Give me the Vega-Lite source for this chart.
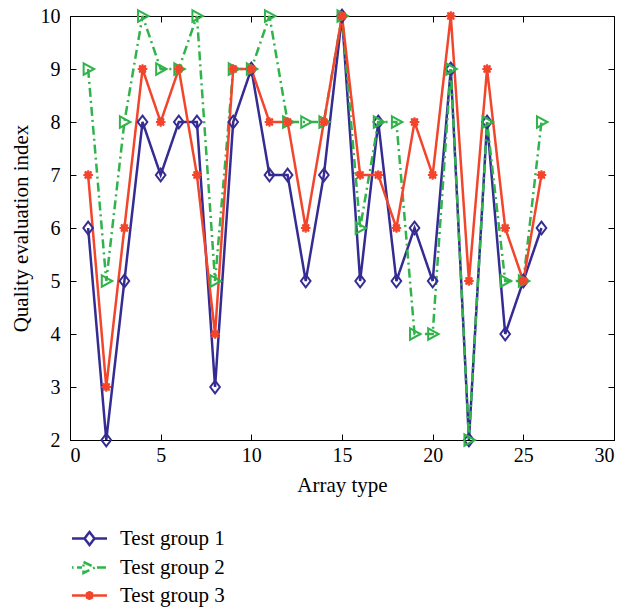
{
  "$schema": "https://vega.github.io/schema/vega-lite/v6.json",
  "width": 544,
  "height": 424,
  "autosize": {"type": "none"},
  "padding": {"left": 70, "top": 16, "right": 11, "bottom": 170},
  "background": "white",
  "config": {
    "font": "Liberation Serif",
    "view": {"stroke": "black", "strokeWidth": 1},
    "axis": {
      "domainColor": "black", "tickColor": "black", "labelColor": "black", "titleColor": "black",
      "labelFont": "Liberation Serif", "titleFont": "Liberation Serif",
      "labelFontSize": 20, "titleFontSize": 21, "titleFontWeight": "normal",
      "grid": false, "tickSize": -6, "labelPadding": 16
    }
  },
  "data": {"values": [
    {"x":1,"y":6,"group":"Test group 1"},{"x":2,"y":2,"group":"Test group 1"},{"x":3,"y":5,"group":"Test group 1"},{"x":4,"y":8,"group":"Test group 1"},{"x":5,"y":7,"group":"Test group 1"},{"x":6,"y":8,"group":"Test group 1"},{"x":7,"y":8,"group":"Test group 1"},{"x":8,"y":3,"group":"Test group 1"},{"x":9,"y":8,"group":"Test group 1"},{"x":10,"y":9,"group":"Test group 1"},{"x":11,"y":7,"group":"Test group 1"},{"x":12,"y":7,"group":"Test group 1"},{"x":13,"y":5,"group":"Test group 1"},{"x":14,"y":7,"group":"Test group 1"},{"x":15,"y":10,"group":"Test group 1"},{"x":16,"y":5,"group":"Test group 1"},{"x":17,"y":8,"group":"Test group 1"},{"x":18,"y":5,"group":"Test group 1"},{"x":19,"y":6,"group":"Test group 1"},{"x":20,"y":5,"group":"Test group 1"},{"x":21,"y":9,"group":"Test group 1"},{"x":22,"y":2,"group":"Test group 1"},{"x":23,"y":8,"group":"Test group 1"},{"x":24,"y":4,"group":"Test group 1"},{"x":25,"y":5,"group":"Test group 1"},{"x":26,"y":6,"group":"Test group 1"},
    {"x":1,"y":9,"group":"Test group 2"},{"x":2,"y":5,"group":"Test group 2"},{"x":3,"y":8,"group":"Test group 2"},{"x":4,"y":10,"group":"Test group 2"},{"x":5,"y":9,"group":"Test group 2"},{"x":6,"y":9,"group":"Test group 2"},{"x":7,"y":10,"group":"Test group 2"},{"x":8,"y":5,"group":"Test group 2"},{"x":9,"y":9,"group":"Test group 2"},{"x":10,"y":9,"group":"Test group 2"},{"x":11,"y":10,"group":"Test group 2"},{"x":12,"y":8,"group":"Test group 2"},{"x":13,"y":8,"group":"Test group 2"},{"x":14,"y":8,"group":"Test group 2"},{"x":15,"y":10,"group":"Test group 2"},{"x":16,"y":6,"group":"Test group 2"},{"x":17,"y":8,"group":"Test group 2"},{"x":18,"y":8,"group":"Test group 2"},{"x":19,"y":4,"group":"Test group 2"},{"x":20,"y":4,"group":"Test group 2"},{"x":21,"y":9,"group":"Test group 2"},{"x":22,"y":2,"group":"Test group 2"},{"x":23,"y":8,"group":"Test group 2"},{"x":24,"y":5,"group":"Test group 2"},{"x":25,"y":5,"group":"Test group 2"},{"x":26,"y":8,"group":"Test group 2"},
    {"x":1,"y":7,"group":"Test group 3"},{"x":2,"y":3,"group":"Test group 3"},{"x":3,"y":6,"group":"Test group 3"},{"x":4,"y":9,"group":"Test group 3"},{"x":5,"y":8,"group":"Test group 3"},{"x":6,"y":9,"group":"Test group 3"},{"x":7,"y":7,"group":"Test group 3"},{"x":8,"y":4,"group":"Test group 3"},{"x":9,"y":9,"group":"Test group 3"},{"x":10,"y":9,"group":"Test group 3"},{"x":11,"y":8,"group":"Test group 3"},{"x":12,"y":8,"group":"Test group 3"},{"x":13,"y":6,"group":"Test group 3"},{"x":14,"y":8,"group":"Test group 3"},{"x":15,"y":10,"group":"Test group 3"},{"x":16,"y":7,"group":"Test group 3"},{"x":17,"y":7,"group":"Test group 3"},{"x":18,"y":6,"group":"Test group 3"},{"x":19,"y":8,"group":"Test group 3"},{"x":20,"y":7,"group":"Test group 3"},{"x":21,"y":10,"group":"Test group 3"},{"x":22,"y":5,"group":"Test group 3"},{"x":23,"y":9,"group":"Test group 3"},{"x":24,"y":6,"group":"Test group 3"},{"x":25,"y":5,"group":"Test group 3"},{"x":26,"y":7,"group":"Test group 3"}
  ]},
  "layer": [
    {
      "mark": {"type": "line", "strokeWidth": 2.5},
      "encoding": {
        "x": {"field": "x", "type": "quantitative", "scale": {"domain": [0, 30], "nice": false},
              "axis": {"orient": "bottom", "values": [0,5,10,15,20,25,30], "title": "Array type", "titlePadding": 9, "labelPadding": 11}},
        "y": {"field": "y", "type": "quantitative", "scale": {"domain": [2, 10], "nice": false, "zero": false},
              "axis": {"orient": "left", "values": [2,3,4,5,6,7,8,9,10], "title": "Quality evaluation index", "titlePadding": 9}},
        "color": {"field": "group", "type": "nominal",
          "scale": {"domain": ["Test group 1","Test group 2","Test group 3"], "range": ["#352c93","#30b34a","#f2452b"]},
          "legend": {
            "orient": "none", "legendX": 9, "legendY": 512, "title": null, "padding": 0,
            "symbolSize": 4, "symbolStrokeWidth": 2.5, "labelFontSize": 21, "labelFont": "Liberation Serif",
            "labelColor": "black", "labelOffset": 20, "rowPadding": 6,
            "encode": {"symbols": {"update": {
              "shape": {"signal": "datum.value === 'Test group 1' ? 'M-17.5,0L-5,0M5,0L17.5,0M-5,0L0,-6.5L5,0L0,6.5Z' : datum.value === 'Test group 2' ? 'M-17.5,0L-16,0M-12.5,0L-7.5,0M-6,-5.5L5.5,0L-6,5.5ZM7.5,0L17.5,0' : 'M-17.5,0L17.5,0M2.5,0A2.5,2.5 0 1,1 -2.5,0A2.5,2.5 0 1,1 2.5,0ZM-4.5,0L4.5,0M0,-4.5L0,4.5M-3.2,-3.2L3.2,3.2M-3.2,3.2L3.2,-3.2'"},
              "fill": {"value": "transparent"},
              "strokeDash": {"value": [1, 0]}
            }}}
          }},
        "strokeDash": {"field": "group", "type": "nominal",
          "scale": {"domain": ["Test group 1","Test group 2","Test group 3"], "range": [[1,0],[9,4,2,4],[1,0]]},
          "legend": null}
      }
    },
    {
      "transform": [{"filter": "datum.group === 'Test group 1'"}],
      "mark": {"type": "point", "filled": false, "strokeWidth": 2, "size": 144, "opacity": 1, "color": "#352c93", "shape": "M0,-1.05L0.8,0L0,1.05L-0.8,0Z"},
      "encoding": {
        "x": {"field": "x", "type": "quantitative", "scale": {"domain": [0, 30], "nice": false},
              "axis": {"orient": "top", "values": [0,5,10,15,20,25,30], "labels": false, "title": null, "domain": false}},
        "y": {"field": "y", "type": "quantitative", "scale": {"domain": [2, 10], "nice": false, "zero": false},
              "axis": {"orient": "right", "values": [2,3,4,5,6,7,8,9,10], "labels": false, "title": null, "domain": false}}
      }
    },
    {
      "transform": [{"filter": "datum.group === 'Test group 2'"}],
      "mark": {"type": "point", "filled": false, "strokeWidth": 2, "size": 144, "opacity": 1, "color": "#30b34a", "shape": "M-0.75,-0.95L1,0L-0.75,0.95Z"},
      "encoding": {
        "x": {"field": "x", "type": "quantitative", "axis": null},
        "y": {"field": "y", "type": "quantitative", "axis": null}
      }
    },
    {
      "transform": [{"filter": "datum.group === 'Test group 3'"}],
      "mark": {"type": "point", "filled": false, "strokeWidth": 2, "size": 144, "opacity": 1, "color": "#f2452b", "shape": "M0.45,0A0.45,0.45 0 1,1 -0.45,0A0.45,0.45 0 1,1 0.45,0ZM-0.8,0L0.8,0M0,-0.8L0,0.8M-0.57,-0.57L0.57,0.57M-0.57,0.57L0.57,-0.57"},
      "encoding": {
        "x": {"field": "x", "type": "quantitative", "axis": null},
        "y": {"field": "y", "type": "quantitative", "axis": null}
      }
    }
  ],
  "resolve": {"axis": {"x": "independent", "y": "independent"}}
}
